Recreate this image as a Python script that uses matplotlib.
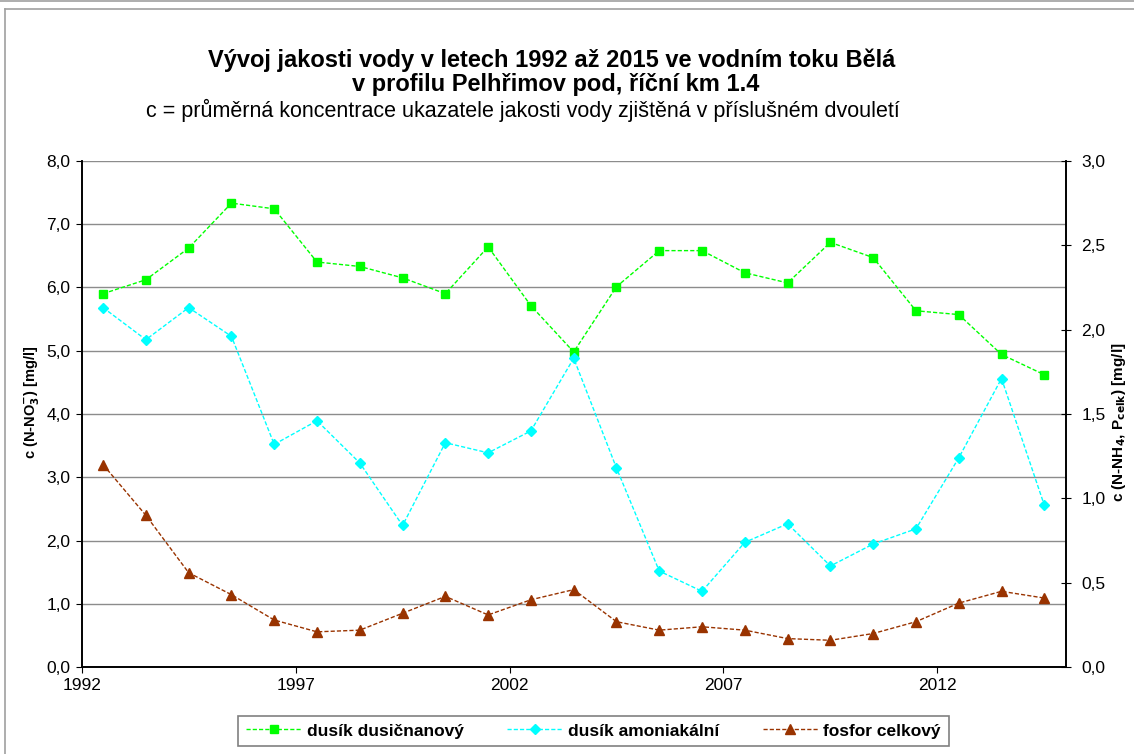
import matplotlib
matplotlib.use("Agg")
import matplotlib.pyplot as plt
from matplotlib.lines import Line2D
from matplotlib.ticker import FuncFormatter, MultipleLocator

plt.rcParams['font.family'] = ['Liberation Sans', 'DejaVu Sans']

# mid-year of each period, 1992 .. 2014
years = [1992.5 + i for i in range(23)]

# c (N-NO3-) [mg/l], left axis
dusicnanovy = [5.90, 6.12, 6.62, 7.33, 7.24, 6.40, 6.33, 6.15, 5.90, 6.64, 5.71, 4.98,
               6.01, 6.58, 6.58, 6.23, 6.07, 6.71, 6.47, 5.63, 5.57, 4.94, 4.62]
# c (N-NH4) [mg/l], right axis
amoniakalni = [2.13, 1.94, 2.13, 1.96, 1.32, 1.46, 1.21, 0.84, 1.33, 1.27, 1.40, 1.83,
               1.18, 0.57, 0.45, 0.74, 0.85, 0.60, 0.73, 0.82, 1.24, 1.71, 0.96]
# c (P celk) [mg/l], right axis
fosfor = [1.20, 0.90, 0.56, 0.43, 0.28, 0.21, 0.22, 0.32, 0.42, 0.31, 0.40, 0.46,
          0.27, 0.22, 0.24, 0.22, 0.17, 0.16, 0.20, 0.27, 0.38, 0.45, 0.41]

year_ticks = [1992, 1997, 2002, 2007, 2012]

W, H = 1134, 754
fig = plt.figure(figsize=(W / 100, H / 100), dpi=100)

# chart area frame
fig.add_artist(Line2D([0, 1], [1 - 0.5 / H] * 2, transform=fig.transFigure, color='#a0a0a0', lw=1.2))
fig.add_artist(Line2D([4.5 / W, 1], [1 - 8.5 / H] * 2, transform=fig.transFigure, color='#a0a0a0', lw=1.2))
fig.add_artist(Line2D([4.5 / W] * 2, [0, 1 - 8.5 / H], transform=fig.transFigure, color='#a0a0a0', lw=1.2))

ax = fig.add_axes([81.7 / W, (H - 667.3) / H, 984.0 / W, 506.6 / H])
ax2 = ax.twinx()

comma = FuncFormatter(lambda v, _: f"{v:.1f}".replace('.', ','))
dash = (0, (3, 1.5))

l1, = ax.plot(years, dusicnanovy, color='#00ff00', lw=1, linestyle=dash,
              marker='s', markersize=6, markeredgecolor='#00ff00', label='dusík dusičnanový')
l2, = ax2.plot(years, amoniakalni, color='#00ffff', lw=1, linestyle=dash,
               marker='D', markersize=5.5, markeredgecolor='#00ffff', label='dusík amoniakální')
l3, = ax2.plot(years, fosfor, color='#993300', lw=1, linestyle=dash,
               marker='^', markersize=6.5, markeredgecolor='#993300', label='fosfor celkový')

ax.set_xlim(1992, 2015)
ax.set_ylim(0, 8)
ax2.set_ylim(0, 3)
ax.set_xticks(year_ticks)
ax.yaxis.set_major_locator(MultipleLocator(1))
ax2.yaxis.set_major_locator(MultipleLocator(0.5))
ax.yaxis.set_major_formatter(comma)
ax2.yaxis.set_major_formatter(comma)

ax.grid(axis='y', color='#8c8c8c', lw=1)
ax.set_axisbelow(True)
for a in (ax, ax2):
    a.spines['top'].set_visible(False)
    for s in ('left', 'right', 'bottom'):
        a.spines[s].set_linewidth(1.2)
        a.spines[s].set_color('black')

ax.tick_params(axis='both', direction='out', length=4, width=0.8, labelsize=12.5, pad=4)
ax2.tick_params(axis='y', direction='inout', length=6.5, width=0.8, labelsize=12.5, pad=8)

ax.set_ylabel('c (N-NO$_\\mathbf{3}^\\mathbf{-}$) [mg/l]', fontsize=10.5, fontweight='bold')
ax.yaxis.set_label_coords(-0.040, 0.524)
ax2.set_ylabel('c (N-NH$_\\mathbf{4}$, P$_\\mathbf{celk}$) [mg/l]', fontsize=11, fontweight='bold',
               rotation=90)
ax2.yaxis.set_label_coords(1.045, 0.484)

fig.text(551.5 / W, 1 - 60 / H, 'Vývoj jakosti vody v letech 1992 až 2015 ve vodním toku Bělá',
         ha='center', va='center', fontsize=17, fontweight='bold')
fig.text(556 / W, 1 - 85 / H, 'v profilu Pelhřimov pod, říční km 1.4',
         ha='center', va='center', fontsize=17, fontweight='bold')
fig.text(522.5 / W, 1 - 110 / H,
         'c = průměrná koncentrace ukazatele jakosti vody zjištěná v příslušném dvouletí',
         ha='center', va='center', fontsize=15.5)

leg = fig.legend([l1, l2, l3], [l.get_label() for l in (l1, l2, l3)],
                 loc='center', bbox_to_anchor=(593.5 / W, 1 - 731 / H), ncol=3,
                 frameon=True, fancybox=False, edgecolor='#808080', framealpha=1,
                 prop={'weight': 'bold', 'size': 12.5}, handlelength=3.2,
                 handletextpad=0.3, columnspacing=2.5, borderpad=0.45)
leg.get_frame().set_linewidth(1.2)

fig.savefig('out.png', dpi=100)
